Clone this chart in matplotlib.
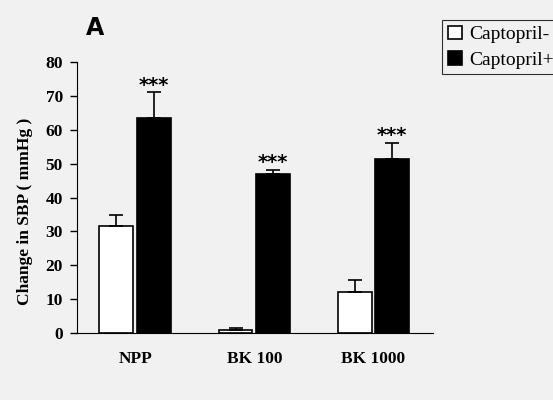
import matplotlib
matplotlib.use("Agg")
import matplotlib.pyplot as plt
import numpy as np

categories = ["NPP", "BK 100", "BK 1000"]
capto_minus = [31.5, 1.0, 12.0]
capto_minus_err = [3.3, 0.5, 3.5]
capto_plus = [63.5, 47.0, 51.5]
capto_plus_err = [7.5, 1.0, 4.5]
yticks = [0, 10, 20, 30, 40, 50, 60, 70, 80]

plt.rcParams['font.family'] = ['Liberation Serif', 'DejaVu Serif']

fig = plt.figure(figsize=(5.53, 4.0), dpi=100, facecolor='#f1f1f1')
ax = fig.add_axes([0.139, 0.1675, 0.644, 0.6775])
ax.set_facecolor('#f1f1f1')

x = np.arange(len(categories))
w = 0.285
off = 0.158
ax.bar(x - off, capto_minus, w, color='white', edgecolor='black', linewidth=1.2,
       yerr=[np.zeros(3), capto_minus_err], capsize=5,
       error_kw=dict(elinewidth=1.2, capthick=1.2, ecolor='black'), label='Captopril-')
ax.bar(x + off, capto_plus, w, color='black', edgecolor='black', linewidth=1.2,
       yerr=[np.zeros(3), capto_plus_err], capsize=5,
       error_kw=dict(elinewidth=1.2, capthick=1.2, ecolor='black'), label='Captopril+')

for xi, v, e in zip(x + off, capto_plus, capto_plus_err):
    ax.text(xi, v + e - 0.6, '***', ha='center', va='bottom', fontsize=14,
            fontweight='bold', family='DejaVu Sans')

ax.set_xlim(-0.49, 2.5)
ax.set_ylim(0, 80)
ax.set_yticks(yticks)
ax.set_yticklabels([str(t) for t in yticks], fontsize=12.5, fontweight='bold')
ax.set_xticks(x)
ax.set_xticklabels(categories, fontsize=12.5, fontweight='bold')
ax.tick_params(axis='x', length=0, pad=13)
ax.tick_params(axis='y', length=5, width=1, direction='out', pad=5)
ax.spines['top'].set_visible(False)
ax.spines['right'].set_visible(False)
ax.set_ylabel('Change in SBP ( mmHg )', fontsize=12.5, fontweight='bold')
ax.yaxis.set_label_coords(-0.122, 0.45)

fig.text(0.172, 0.93, 'A', fontsize=17, fontweight='bold', family='DejaVu Sans',
         ha='center', va='center')

leg = fig.legend(loc='upper right', bbox_to_anchor=(1.03, 0.975), fontsize=14,
                 frameon=True, fancybox=False, edgecolor='black', handlelength=0.7,
                 handleheight=0.7, handletextpad=0.4, borderpad=0.3, labelspacing=0.4)
leg.get_frame().set_linewidth(0.8)
leg.get_frame().set_facecolor('#f1f1f1')

fig.savefig('out.png', dpi=100, facecolor=fig.get_facecolor())
